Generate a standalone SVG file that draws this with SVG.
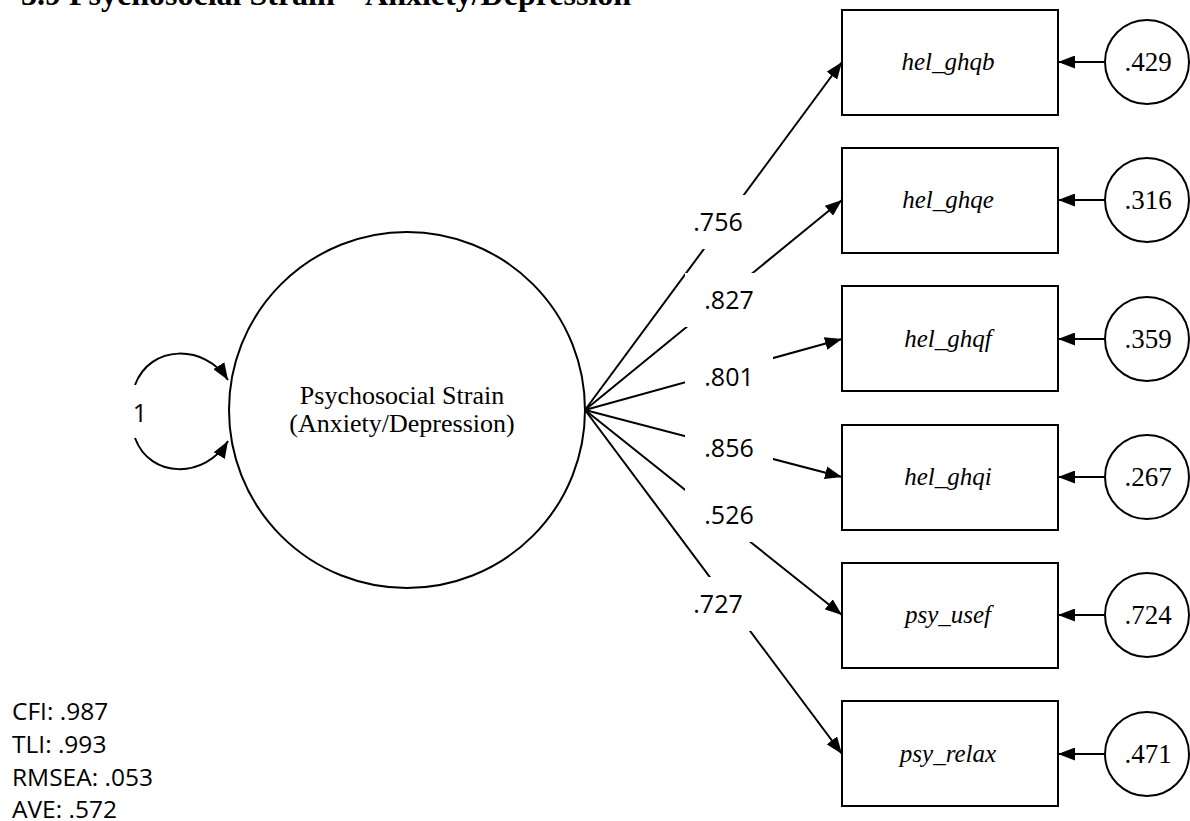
<svg xmlns="http://www.w3.org/2000/svg" width="1190" height="821" viewBox="0 0 1190 821">
  <style>
    .box { fill: #fff; stroke: #000; stroke-width: 2; }
    .circ { fill: #fff; stroke: #000; stroke-width: 2; }
    .edge { fill: none; stroke: #000; stroke-width: 2; }
    .lblbg { fill: #fff; stroke: none; }
    .serif { font-family: "Liberation Serif", "Times New Roman", serif; fill: #000; }
    .sans { font-family: "Open Sans", "Liberation Sans", sans-serif; fill: #000; }
    .var { font-size: 25px; font-style: italic; text-anchor: middle; }
    .err { font-size: 27px; text-anchor: middle; }
    .num { font-size: 25px; text-anchor: middle; }
    .stat { font-size: 24.5px; }
    .title { font-size: 32px; font-weight: bold; }
  </style>
  <defs>
    <marker id="arrow" viewBox="0 0 17 13" refX="17" refY="6.5" markerWidth="17" markerHeight="13" markerUnits="userSpaceOnUse" orient="auto">
      <path d="M0,0 L17,6.5 L0,13 z" fill="#000"/>
    </marker>
  </defs>

  <text class="serif title" x="21" y="5">3.9 Psychosocial Strain – Anxiety/Depression</text>

  <!-- connectors: loadings, residual arrows, variance loop -->
  <g id="connectors">
    <line class="edge" x1="585" y1="410" x2="842" y2="62" marker-end="url(#arrow)"/>
    <line class="edge" x1="585" y1="410" x2="842" y2="200" marker-end="url(#arrow)"/>
    <line class="edge" x1="585" y1="410" x2="842" y2="339" marker-end="url(#arrow)"/>
    <line class="edge" x1="585" y1="410" x2="842" y2="477" marker-end="url(#arrow)"/>
    <line class="edge" x1="585" y1="410" x2="842" y2="615" marker-end="url(#arrow)"/>
    <line class="edge" x1="585" y1="410" x2="842" y2="754" marker-end="url(#arrow)"/>

    <line class="edge" x1="1104" y1="62" x2="1058" y2="62" marker-end="url(#arrow)"/>
    <line class="edge" x1="1104" y1="200" x2="1058" y2="200" marker-end="url(#arrow)"/>
    <line class="edge" x1="1104" y1="339" x2="1058" y2="339" marker-end="url(#arrow)"/>
    <line class="edge" x1="1104" y1="477" x2="1058" y2="477" marker-end="url(#arrow)"/>
    <line class="edge" x1="1104" y1="615" x2="1058" y2="615" marker-end="url(#arrow)"/>
    <line class="edge" x1="1104" y1="754" x2="1058" y2="754" marker-end="url(#arrow)"/>

    <path class="edge" d="M135,385 C150,344 205,344 228,380" marker-end="url(#arrow)"/>
    <path class="edge" d="M135,438 C150,479 205,479 228,441" marker-end="url(#arrow)"/>

    <!-- loading labels on white pads -->
    <g id="loading-labels">
      <rect class="lblbg" x="674" y="195" width="88" height="54"/>
      <text class="sans num" x="718" y="231">.756</text>
      <rect class="lblbg" x="685" y="273" width="88" height="54"/>
      <text class="sans num" x="729" y="309">.827</text>
      <rect class="lblbg" x="685" y="350" width="88" height="54"/>
      <text class="sans num" x="729" y="386">.801</text>
      <rect class="lblbg" x="685" y="421" width="88" height="54"/>
      <text class="sans num" x="729" y="457">.856</text>
      <rect class="lblbg" x="685" y="488" width="88" height="54"/>
      <text class="sans num" x="729" y="524">.526</text>
      <rect class="lblbg" x="674" y="577" width="88" height="54"/>
      <text class="sans num" x="718" y="613">.727</text>
    </g>
    <text class="sans num" x="140" y="422">1</text>
  </g>

  <g id="latent">
    <circle class="circ" cx="407" cy="410" r="178"/>
    <text class="serif" font-size="26" text-anchor="middle" x="402" y="404">Psychosocial Strain</text>
    <text class="serif" font-size="26" text-anchor="middle" x="402" y="432">(Anxiety/Depression)</text>
  </g>

  <g id="hel_ghqb">
    <rect class="box" x="842" y="10" width="216" height="105"/>
    <text class="serif var" x="948" y="70">hel_ghqb</text>
  </g>
  <g id="hel_ghqe">
    <rect class="box" x="842" y="148" width="216" height="105"/>
    <text class="serif var" x="948" y="208">hel_ghqe</text>
  </g>
  <g id="hel_ghqf">
    <rect class="box" x="842" y="286" width="216" height="105"/>
    <text class="serif var" x="948" y="347">hel_ghqf</text>
  </g>
  <g id="hel_ghqi">
    <rect class="box" x="842" y="425" width="216" height="105"/>
    <text class="serif var" x="948" y="485">hel_ghqi</text>
  </g>
  <g id="psy_usef">
    <rect class="box" x="842" y="563" width="216" height="105"/>
    <text class="serif var" x="948" y="623">psy_usef</text>
  </g>
  <g id="psy_relax">
    <rect class="box" x="842" y="701" width="216" height="105"/>
    <text class="serif var" x="948" y="762">psy_relax</text>
  </g>

  <g id="e_hel_ghqb">
    <circle class="circ" cx="1147" cy="62" r="42"/>
    <text class="serif err" x="1148" y="71">.429</text>
  </g>
  <g id="e_hel_ghqe">
    <circle class="circ" cx="1147" cy="200" r="42"/>
    <text class="serif err" x="1148" y="209">.316</text>
  </g>
  <g id="e_hel_ghqf">
    <circle class="circ" cx="1147" cy="339" r="42"/>
    <text class="serif err" x="1148" y="348">.359</text>
  </g>
  <g id="e_hel_ghqi">
    <circle class="circ" cx="1147" cy="477" r="42"/>
    <text class="serif err" x="1148" y="486">.267</text>
  </g>
  <g id="e_psy_usef">
    <circle class="circ" cx="1147" cy="615" r="42"/>
    <text class="serif err" x="1148" y="624">.724</text>
  </g>
  <g id="e_psy_relax">
    <circle class="circ" cx="1147" cy="754" r="42"/>
    <text class="serif err" x="1148" y="763">.471</text>
  </g>

  <g id="fit-indices">
    <text class="sans stat" x="12" y="720">CFI: .987</text>
    <text class="sans stat" x="12" y="753">TLI: .993</text>
    <text class="sans stat" x="12" y="786">RMSEA: .053</text>
    <text class="sans stat" x="12" y="818">AVE: .572</text>
  </g>
</svg>
